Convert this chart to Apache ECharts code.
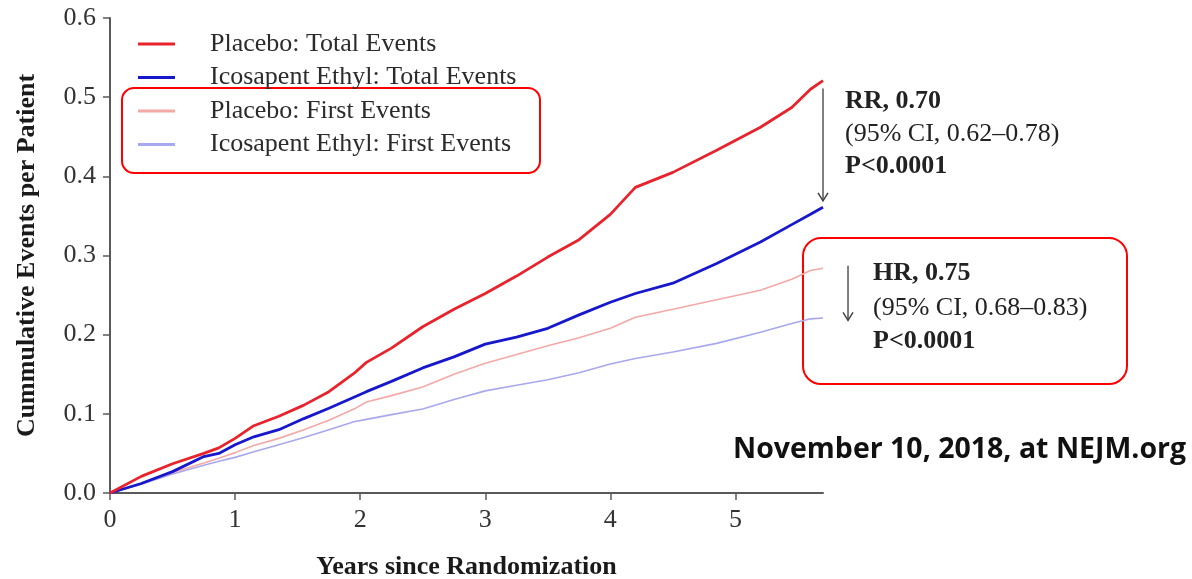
<!DOCTYPE html>
<html>
<head>
<meta charset="utf-8">
<script src="https://cdn.jsdelivr.net/npm/echarts@6/dist/echarts.min.js"></script>
<style>
  html, body { margin: 0; padding: 0; background: #fff; }
  #chart { width: 1192px; height: 579px; }
</style>
</head>
<body>
<div id="chart"></div>
<script>
// Years since randomization at which the cumulative curves are sampled
const years = [0, 0.25, 0.5, 0.75, 0.87, 1.0, 1.15, 1.35, 1.55, 1.75, 1.95, 2.05, 2.25, 2.5, 2.75,
               3.0, 3.25, 3.5, 3.75, 4.0, 4.2, 4.5, 4.85, 5.2, 5.45, 5.6, 5.7];

// Cumulative events per patient
const placeboTotal = [0, 0.021, 0.037, 0.050, 0.057, 0.069, 0.085, 0.097, 0.111, 0.128, 0.151, 0.165, 0.183, 0.210, 0.232,
                      0.252, 0.274, 0.298, 0.320, 0.352, 0.386, 0.405, 0.433, 0.462, 0.487, 0.510, 0.521];
const icosapentTotal = [0, 0.012, 0.027, 0.046, 0.050, 0.061, 0.071, 0.080, 0.094, 0.107, 0.121, 0.128, 0.141, 0.158, 0.172,
                        0.188, 0.197, 0.208, 0.225, 0.241, 0.252, 0.265, 0.290, 0.317, 0.339, 0.352, 0.361];
const placeboFirst = [0, 0.012, 0.026, 0.038, 0.044, 0.051, 0.060, 0.069, 0.080, 0.092, 0.106, 0.115, 0.123, 0.134, 0.150,
                      0.164, 0.175, 0.186, 0.196, 0.208, 0.222, 0.232, 0.244, 0.256, 0.270, 0.281, 0.284];
const icosapentFirst = [0, 0.011, 0.024, 0.035, 0.040, 0.045, 0.052, 0.061, 0.070, 0.080, 0.090, 0.093, 0.099, 0.106, 0.118,
                        0.129, 0.136, 0.143, 0.152, 0.163, 0.170, 0.178, 0.189, 0.203, 0.214, 0.220, 0.221];

const seriesNames = ['Placebo: Total Events', 'Icosapent Ethyl: Total Events',
                     'Placebo: First Events', 'Icosapent Ethyl: First Events'];
const seriesColors = ['#e8232b', '#1717cc', '#f3a9a6', '#a8a8ee'];
const seriesWidths = [2.8, 2.8, 1.6, 1.6];
const seriesValues = [placeboTotal, icosapentTotal, placeboFirst, icosapentFirst];

// Treatment-effect annotations
const totalStats = ['RR, 0.70', '(95% CI, 0.62\u20130.78)', 'P<0.0001'];
const firstStats = ['HR, 0.75', '(95% CI, 0.68\u20130.83)', 'P<0.0001'];
const sourceNote = 'November 10, 2018, at NEJM.org';

const serif = '"Liberation Serif", "Times New Roman", serif';
const fs = 26;
const chart = echarts.init(document.getElementById('chart'), null, { renderer: 'canvas' });

const pair = (vals) => years.map((x, i) => [x, vals[i]]);

chart.setOption({
  backgroundColor: '#ffffff',
  animation: false,
  grid: { left: 110, right: 369, top: 18, bottom: 86, outerBoundsMode: 'none', containLabel: false },
  legend: {
    orient: 'vertical',
    left: 133,
    top: 26,
    icon: 'rect',
    itemWidth: 37,
    itemHeight: 3,
    itemGap: 7.5,
    data: seriesNames,
    textStyle: { fontFamily: serif, fontSize: fs, lineHeight: 26, color: '#2b2b2b', padding: [0, 0, 0, 30] }
  },
  xAxis: {
    type: 'value',
    min: 0, max: 5.7, interval: 1,
    name: 'Years since Randomization',
    nameLocation: 'middle',
    nameGap: 61,
    nameTextStyle: { fontFamily: serif, fontSize: fs, fontWeight: 'bold', color: '#1a1a1a' },
    axisLine: { lineStyle: { color: '#5a5a5a', width: 2 } },
    axisTick: { length: 7, lineStyle: { color: '#5a5a5a', width: 1.5 } },
    axisLabel: { fontFamily: serif, fontSize: fs, color: '#333', margin: 14, showMaxLabel: false },
    splitLine: { show: false }
  },
  yAxis: {
    type: 'value',
    min: 0, max: 0.6, interval: 0.1,
    name: 'Cummulative Events per Patient',
    nameLocation: 'middle',
    nameGap: 70,
    nameTextStyle: { fontFamily: serif, fontSize: fs, fontWeight: 'bold', color: '#1a1a1a' },
    axisLine: { show: true, lineStyle: { color: '#5a5a5a', width: 2 } },
    axisTick: { show: true, length: 7, lineStyle: { color: '#5a5a5a', width: 1.5 } },
    axisLabel: { fontFamily: serif, fontSize: fs, color: '#333', margin: 14,
                 formatter: (v) => v.toFixed(1) },
    splitLine: { show: false }
  },
  series: seriesNames.map((name, i) => ({
    name,
    type: 'line',
    data: pair(seriesValues[i]),
    symbol: 'none',
    z: 10 - i,
    lineStyle: { color: seriesColors[i], width: seriesWidths[i] },
    itemStyle: { color: seriesColors[i] }
  }))
});

// Annotation layer: arrows between end points, statistics text, boxes
function drawAnnotations() {
  const last = years.length - 1;
  const xEnd = years[last];
  const p = (x, y) => chart.convertToPixel({ gridIndex: 0 }, [x, y]);

  const a1Top = p(xEnd, placeboTotal[last] - 0.01);
  const a1Bot = p(xEnd, icosapentTotal[last] + 0.008);
  const a2Top = p(xEnd + 0.2, placeboFirst[last] + 0.003);
  const a2Bot = p(xEnd + 0.2, icosapentFirst[last] - 0.003);

  const arrow = (top, bot) => [
    { type: 'line', shape: { x1: top[0], y1: top[1], x2: bot[0], y2: bot[1] },
      style: { stroke: '#555', lineWidth: 1.5 } },
    { type: 'polyline', shape: { points: [[bot[0] - 5, bot[1] - 8], [bot[0], bot[1]], [bot[0] + 5, bot[1] - 8]] },
      style: { stroke: '#444', lineWidth: 1.5, fill: null } }
  ];

  const statText = (lines, x, ys) => lines.map((t, i) => ({
    type: 'text', x: x, y: ys[i],
    style: { text: t, fontFamily: serif, fontSize: fs, fill: '#222',
             verticalAlign: 'middle', align: 'left',
             fontWeight: i === 1 ? 'normal' : 'bold' }
  }));

  chart.setOption({
    graphic: [
      ...arrow(a1Top, a1Bot),
      ...arrow(a2Top, a2Bot),
      ...statText(totalStats, 845, [101, 134, 166]),
      ...statText(firstStats, 873, [273, 308, 341]),
      { type: 'rect', shape: { x: 122, y: 88, width: 418, height: 85, r: 12 },
        style: { stroke: '#ff0000', lineWidth: 2, fill: null } },
      { type: 'rect', shape: { x: 803, y: 238, width: 324, height: 146, r: 18 },
        style: { stroke: '#ff0000', lineWidth: 2, fill: null } },
      { type: 'text', x: 733, y: 450,
        style: { text: sourceNote, fontFamily: '"Open Sans", "Noto Sans", sans-serif',
                 fontSize: 28.5, fontWeight: 'bold', fill: '#111', verticalAlign: 'middle' } }
    ]
  });
}
drawAnnotations();
</script>
</body>
</html>
